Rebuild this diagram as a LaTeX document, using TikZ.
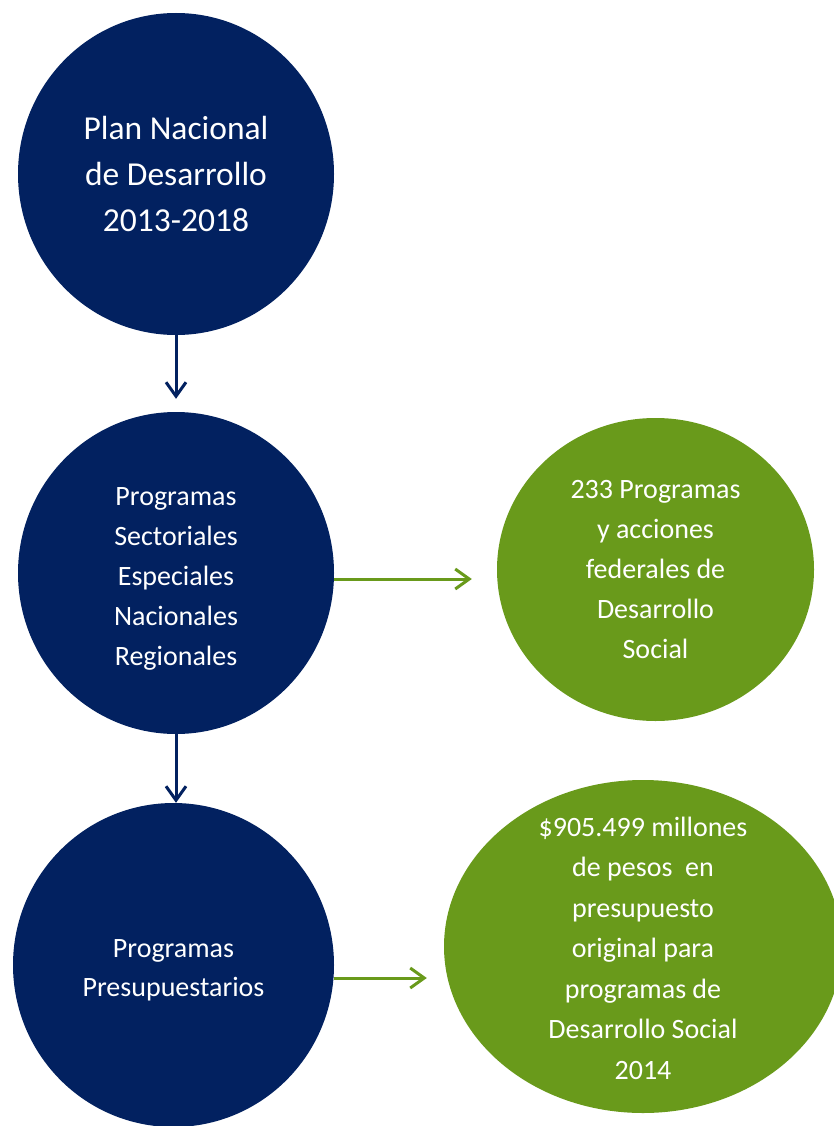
\documentclass[tikz,border=0pt]{standalone}
\usepackage{fontspec}
\setmainfont{Carlito}
\usepackage{xcolor}
\usetikzlibrary{shapes.geometric,arrows.meta}
\definecolor{navyblue}{RGB}{2,33,96}
\definecolor{leafgreen}{RGB}{105,154,27}
\tikzset{
    navy-circle/.style = {ellipse, fill=navyblue, text=white, inner sep=0pt, align=center, font=\fontsize{28}{40}\selectfont},
    green-circle/.style = {ellipse, fill=leafgreen, text=white, inner sep=0pt, align=center, font=\fontsize{28}{40}\selectfont},
    circle-text/.style = {text=white, inner sep=0pt, align=center, font=\fontsize{28}{40.5}\selectfont},
    navy-arrow/.style = {draw=navyblue, line width=3pt, -{Straight Barb[length=14pt,width=20pt]}},
    green-arrow/.style = {draw=leafgreen, line width=3pt, -{Straight Barb[length=14pt,width=20pt]}},
}

\begin{document}
\begin{tikzpicture}[x=1pt,y=-1pt]
\fill[white] (0,0) rectangle (833,1126);
\useasboundingbox (0,0) rectangle (833,1126);

\node [navy-circle, minimum width=316pt, minimum height=322pt, font=\fontsize{33.5}{46}\selectfont] (plan) at (176,174) {Plan Nacional\\de Desarrollo\\2013-2018};
\node [navy-circle, minimum width=316pt, minimum height=322pt] (sectorial) at (176,573) {};
\node [circle-text, font=\fontsize{28}{40}\selectfont] (sectorial-text) at (176,579) {Programas\\Sectoriales\\Especiales\\Nacionales\\Regionales};
\node [navy-circle, minimum width=321pt, minimum height=324pt] (presup) at (173.5,965) {};
\node [circle-text, font=\fontsize{28}{39}\selectfont] (presup-text) at (173.5,970) {Programas\\Presupuestarios};

\node [green-circle, minimum width=317pt, minimum height=303pt] (acciones) at (655.5,569.5) {233 Programas\\y acciones\\federales de\\Desarrollo\\Social};
\node [green-circle, minimum width=398pt, minimum height=333pt] (monto) at (643,946.5) {};
\node [circle-text] (monto-text) at (643,948) {\$905.499 millones\\de pesos~ en\\presupuesto\\original para\\programas de\\Desarrollo Social\\2014};

\draw [navy-arrow, shorten >=13pt] (plan.south) -- (sectorial.north);
\draw [navy-arrow] (sectorial.south) -- (sectorial.south |- presup.north);
\draw [green-arrow, shorten >=25pt] ([yshift=-6pt]sectorial.east) -- ([yshift=-6pt]sectorial.east -| acciones.west);
\draw [green-arrow, shorten >=17pt] ([yshift=-13pt]presup.east) -- ([yshift=-13pt]presup.east -| monto.west);
\end{tikzpicture}
\end{document}
